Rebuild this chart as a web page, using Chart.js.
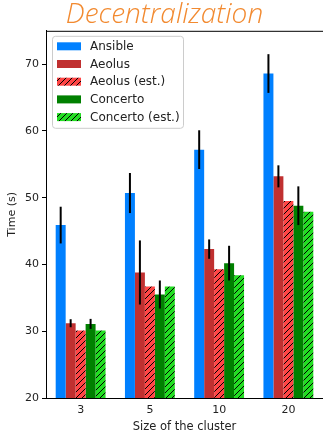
<!DOCTYPE html>
<html>
<head>
<meta charset="utf-8">
<script src="https://cdn.jsdelivr.net/npm/chart.js@4/dist/chart.umd.min.js"></script>
<style>
  html, body { margin: 0; padding: 0; background: #fff; }
  #wrap { width: 323px; height: 434px; }
</style>
</head>
<body>
<div id="wrap"><canvas id="c" width="323" height="434"></canvas></div>
<script>
const categories = ['3', '5', '10', '20'];
const ansible = [45.9, 50.7, 57.2, 68.6];
const ansibleErr = [2.75, 3.0, 2.9, 2.9];
const aeolus = [31.2, 38.8, 42.3, 53.2];
const aeolusErr = [0.6, 4.8, 1.45, 1.65];
const aeolusEst = [30.1, 36.7, 39.3, 49.5];
const concerto = [31.1, 35.5, 40.2, 48.8];
const concertoErr = [0.75, 2.1, 2.6, 2.9];
const concertoEst = [30.1, 36.7, 38.4, 47.9];
const yTicks = [20, 30, 40, 50, 60, 70];

const FONT = "'DejaVu Sans', sans-serif";
Chart.defaults.font.family = FONT;
Chart.defaults.color = '#222';

// matplotlib-like '////' hatch on a solid fill
const hatch = (fill) => {
  const s = 6;
  const cv = document.createElement('canvas');
  cv.width = s; cv.height = s;
  const g = cv.getContext('2d');
  g.fillStyle = fill;
  g.fillRect(0, 0, s, s);
  g.strokeStyle = '#000';
  g.lineWidth = 1;
  g.beginPath();
  g.moveTo(0, s); g.lineTo(s, 0);
  g.moveTo(-s / 2, s / 2); g.lineTo(s / 2, -s / 2);
  g.moveTo(s / 2, s * 1.5); g.lineTo(s * 1.5, s / 2);
  g.stroke();
  return g.createPattern(cv, 'repeat');
};

const ctx = document.getElementById('c').getContext('2d');
const series = [
  { label: 'Ansible', data: ansible, err: ansibleErr, color: '#0080ff' },
  { label: 'Aeolus', data: aeolus, err: aeolusErr, color: '#c03030' },
  { label: 'Aeolus (est.)', data: aeolusEst, err: null, color: hatch('#ff4545') },
  { label: 'Concerto', data: concerto, err: concertoErr, color: '#008000' },
  { label: 'Concerto (est.)', data: concertoEst, err: null, color: hatch('#22dd22') },
];

const errorBars = {
  id: 'errorBars',
  afterDatasetsDraw(chart) {
    const c = chart.ctx;
    const y = chart.scales.y;
    c.save();
    c.strokeStyle = '#000';
    c.lineWidth = 2;
    chart.data.datasets.forEach((ds, i) => {
      if (!ds.err) { return; }
      chart.getDatasetMeta(i).data.forEach((bar, j) => {
        c.beginPath();
        c.moveTo(bar.x, y.getPixelForValue(ds.data[j] - ds.err[j]));
        c.lineTo(bar.x, y.getPixelForValue(ds.data[j] + ds.err[j]));
        c.stroke();
      });
    });
    c.restore();
  },
};

const frameAndLegend = {
  id: 'frameAndLegend',
  afterDraw(chart) {
    const c = chart.ctx;
    const a = chart.chartArea;
    c.save();
    c.strokeStyle = '#000';
    c.lineWidth = 1;
    c.beginPath();
    c.moveTo(a.left + 0.5, a.bottom);
    c.lineTo(a.left + 0.5, a.top + 0.5);
    c.lineTo(a.right, a.top + 0.5);
    c.stroke();

    const lx = a.left + 6, ly = a.top + 5, lw = 131, lh = 92;
    c.fillStyle = 'rgba(255,255,255,0.85)';
    c.strokeStyle = '#cccccc';
    c.beginPath();
    c.roundRect(lx + 0.5, ly + 0.5, lw, lh, 3);
    c.fill();
    c.stroke();
    c.font = '12px ' + FONT;
    c.textBaseline = 'middle';
    chart.data.datasets.forEach((ds, i) => {
      const cy = ly + 10.5 + i * 17.7;
      c.fillStyle = ds.backgroundColor;
      c.fillRect(lx + 5, cy - 4, 24, 8);
      c.fillStyle = '#222';
      c.fillText(ds.label, lx + 38, cy + 0.5);
    });
    c.restore();
  },
};

new Chart(ctx, {
  type: 'bar',
  data: {
    labels: categories,
    datasets: series.map((s) => ({
      label: s.label,
      data: s.data,
      err: s.err,
      backgroundColor: s.color,
      borderWidth: 0,
      barPercentage: 1,
      categoryPercentage: 0.72,
    })),
  },
  options: {
    responsive: false,
    animation: false,
    layout: { padding: { top: 0, right: 0, left: 6, bottom: 0 } },
    plugins: {
      legend: { display: false },
      tooltip: { enabled: false },
      title: {
        display: true,
        text: 'Decentralization',
        color: '#f28a30',
        font: { family: "'Open Sans', Lato, sans-serif", size: 28, style: 'italic', weight: 300, lineHeight: 1.1 },
        padding: { top: 0, bottom: 0 },
      },
    },
    scales: {
      x: {
        grid: { display: false, drawTicks: true, tickLength: 4, tickColor: '#000' },
        border: { color: '#000', width: 1 },
        ticks: { color: '#222', font: { size: 11 }, padding: 2 },
        title: { display: true, text: 'Size of the cluster', color: '#222', font: { size: 11.5 }, padding: 0 },
        afterFit: (axis) => { axis.height = 36; },
      },
      y: {
        min: 20,
        max: 75,
        afterBuildTicks: (axis) => { axis.ticks = yTicks.map((v) => ({ value: v })); },
        grid: { drawOnChartArea: false, tickLength: 4, tickColor: '#000' },
        border: { color: '#000', width: 1 },
        ticks: { color: '#222', font: { size: 11 }, padding: 3 },
        title: { display: true, text: 'Time (s)', color: '#222', font: { size: 11 }, padding: 0 },
        afterFit: (axis) => { axis.width = 40; },
      },
    },
  },
  plugins: [errorBars, frameAndLegend],
});
</script>
</body>
</html>
